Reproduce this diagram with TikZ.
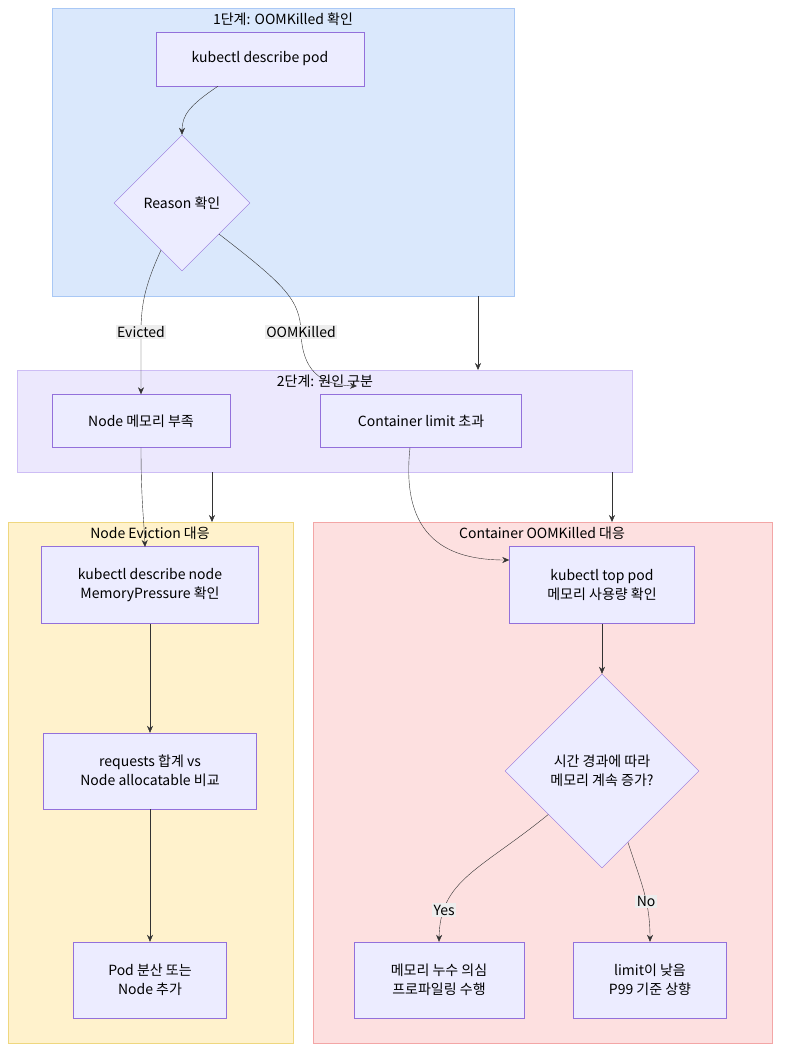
\documentclass[tikz,border=0pt]{standalone}
\usepackage{fontspec}
\setmainfont{Noto Sans CJK KR}
\usepackage{tikz}
\usetikzlibrary{shapes.geometric}
\usetikzlibrary {arrows.meta}
\definecolor{boxfill}{HTML}{ECECFF}
\definecolor{boxline}{HTML}{9370DB}
\definecolor{blueback}{HTML}{DAE8FC}
\definecolor{blueline}{HTML}{A9C8F5}
\definecolor{lavback}{HTML}{ECE8FD}
\definecolor{lavline}{HTML}{CDBDF5}
\definecolor{yelback}{HTML}{FFF2CC}
\definecolor{yelline}{HTML}{EFD77F}
\definecolor{redback}{HTML}{FDE0E0}
\definecolor{redline}{HTML}{F3A6A6}
\tikzset{
  box/.style={draw=boxline, fill=boxfill, align=center, inner sep=0pt},
  dia/.style={draw=boxline, fill=boxfill, diamond, align=center, inner sep=0pt},
  group/.style={draw, inner sep=0pt},
  lbl/.style={fill=black!7, inner sep=1.5pt},
  flow/.style={draw=black!80, -{Stealth[length=7pt,width=6pt]}},
}
\begin{document}
\begin{tikzpicture}[x=1pt, y=-1pt, font=\fontsize{14}{19}\selectfont]
        \useasboundingbox (0,0) rectangle (788,1063);

        % Step 1
        \draw[group, draw=blueline, fill=blueback] (52,8) rectangle (514,296);
        \node (t1) at (283,19) {1단계: OOMKilled 확인};
        \node[box, minimum width=208, minimum height=54] (pod) at (260,59) {kubectl describe pod};
        \node[dia, minimum width=136, minimum height=136] (reason) at (182,203) {Reason 확인};

        % Step 2
        \draw[group, draw=lavline, fill=lavback] (17,370) rectangle (632,472);
        \node (t2) at (325,381) {2단계: 원인 구분};
        \node[box, minimum width=178, minimum height=53] (nodemem) at (141,421) {Node 메모리 부족};
        \node[box, minimum width=201, minimum height=53] (limit) at (421,421) {Container limit 초과};

        % Node eviction
        \draw[group, draw=yelline, fill=yelback] (8,522) rectangle (293,1043);
        \node (t3) at (150,533) {Node Eviction 대응};
        \node[box, minimum width=217, minimum height=77] (descnode) at (150,585) {kubectl describe node\\MemoryPressure 확인};
        \node[box, minimum width=213, minimum height=76] (alloc) at (150,771) {requests 합계 vs\\Node allocatable 비교};
        \node[box, minimum width=153, minimum height=76] (spread) at (150,980) {Pod 분산 또는\\Node 추가};

        % Container OOMKilled
        \draw[group, draw=redline, fill=redback] (313,522) rectangle (772,1043);
        \node (t4) at (542,533) {Container OOMKilled 대응};
        \node[box, minimum width=185, minimum height=77] (top) at (602,585) {kubectl top pod\\메모리 사용량 확인};
        \node[dia, minimum width=194, minimum height=194] (grow) at (602,771) {시간 경과에 따라\\메모리 계속 증가?};
        \node[box, minimum width=170, minimum height=76] (leak) at (439,980) {메모리 누수 의심\\프로파일링 수행};
        \node[box, minimum width=153, minimum height=76] (low) at (650,980) {limit이 낮음\\P99 기준 상향};

        % connectors
        \coordinate (c1) at (478,296);
        \coordinate (c2) at (478,370);
        \coordinate (c3) at (212,472);
        \coordinate (c4) at (212,522);
        \coordinate (c5) at (612,472);
        \coordinate (c6) at (612,522);
        \coordinate (c7) at (357,386);
        \draw[flow] (pod.south) ++(-42,0) .. controls (190,105) and (182,115) .. (reason.north);
        \draw[flow] (reason.246) .. controls (145,285) and (141,305) .. (141,332)
        node[lbl] {Evicted} -- (nodemem.north);
        \draw[flow] (reason.320) .. controls (285,285) and (300,300) .. (301,332)
        node[lbl] {OOMKilled} .. controls (302,370) and (320,385) .. (c7);
        \draw[flow] (c1) -- (c2);
        \draw[flow] (nodemem.south) .. controls (141,500) and (144,520) .. (145,547);
        \draw[flow] (c3) -- (c4);
        \draw[flow] (limit.south) ++(-11,0) .. controls (400,540) and (450,560) .. (top.west |- 0,560);
        \draw[flow] (c5) -- (c6);
        \draw[flow] (descnode) -- (alloc);
        \draw[flow] (alloc) -- (spread);
        \draw[flow] (top) -- (grow);
        \draw[flow] (grow.219) .. controls (480,870) and (440,880) .. (leak.north)
        node[lbl, pos=0.8] {Yes};
        \draw[flow] (grow.290) .. controls (640,880) and (650,900) .. (low.north)
        node[lbl, pos=0.62] {No};
\end{tikzpicture}
\end{document}
